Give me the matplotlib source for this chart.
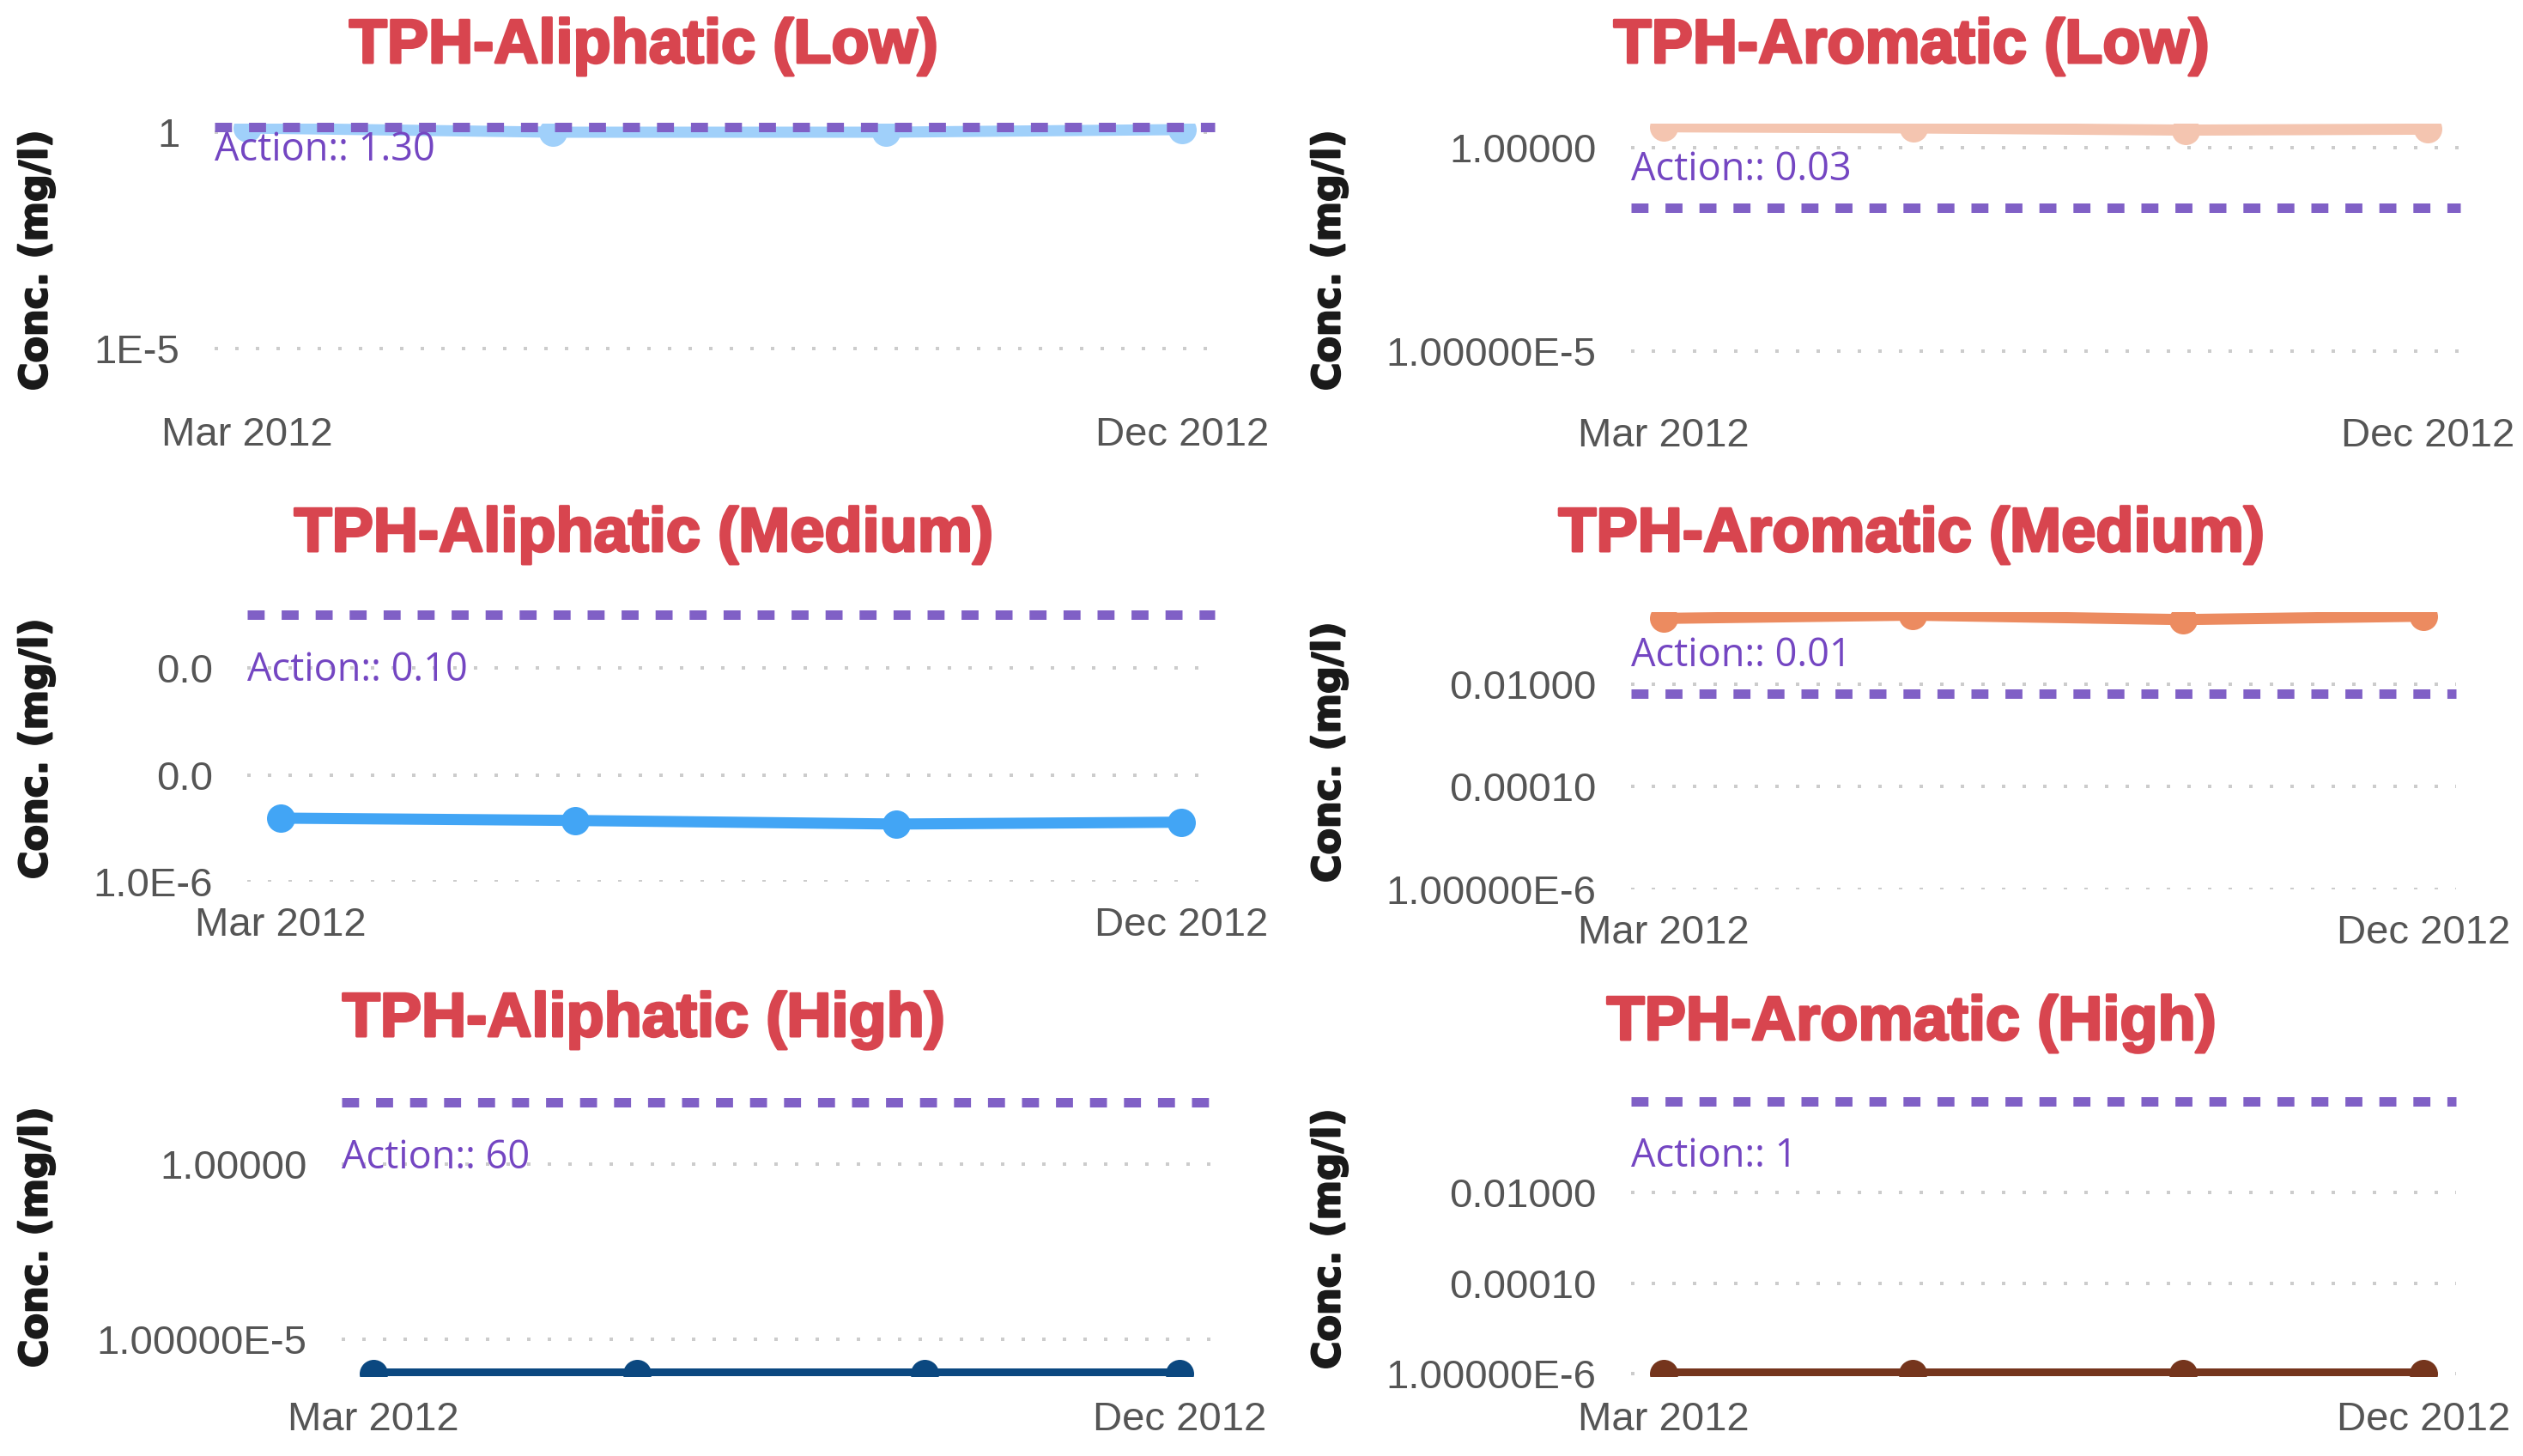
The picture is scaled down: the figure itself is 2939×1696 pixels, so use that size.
import matplotlib
matplotlib.use("Agg")
import matplotlib.pyplot as plt
import matplotlib.dates as mdates
import matplotlib.patheffects as pe
import numpy as np
from datetime import datetime

# ---------------- data ----------------
dates = ["2012-03-01", "2012-05-30", "2012-09-05", "2012-12-01"]
x_tick_labels = ["Mar 2012", "Dec 2012"]

titles = ["TPH-Aliphatic (Low)", "TPH-Aromatic (Low)",
          "TPH-Aliphatic (Medium)", "TPH-Aromatic (Medium)",
          "TPH-Aliphatic (High)", "TPH-Aromatic (High)"]

aliphatic_low = [1.25, 1.0, 1.0, 1.15]
aromatic_low = [3.2, 3.0, 2.65, 2.8]
aliphatic_medium = [1.55e-5, 1.4e-5, 1.2e-5, 1.3e-5]
aromatic_medium = [0.19, 0.22, 0.18, 0.21]
aliphatic_high = [1e-6, 1e-6, 1e-6, 1e-6]
aromatic_high = [1e-6, 1e-6, 1e-6, 1e-6]

action_values = [1.30, 0.033, 0.10, 0.0065, 60, 1]
action_labels = ["1.30", "0.03", "0.10", "0.01", "60", "1"]

y_ticks = [[1e-5, 1], [1e-5, 1], [1e-6, 1e-4, 1e-2],
           [1e-6, 1e-4, 1e-2], [1e-5, 1], [1e-6, 1e-4, 1e-2]]
y_tick_decimals = [0, 5, 1, 5, 5, 5]
y_limits = [(1e-6, 1.58), (1e-6, 3.82), (1e-6, 0.1),
            (1e-6, 0.252), (10 ** -6.07, 60), (10 ** -6.05, 1)]

series = [aliphatic_low, aromatic_low, aliphatic_medium,
          aromatic_medium, aliphatic_high, aromatic_high]

# ---------------- style ----------------
colors = ["#a0d0fa", "#f4c5b0", "#42a5f5", "#ec8b60", "#0b4880", "#75351d"]
# axes rectangles in pixels: (left, top, right, bottom)
rects_px = [(250, 144, 1415, 456), (1900, 144, 2866, 457),
            (288, 716, 1415, 1027), (1900, 713, 2861, 1036),
            (398, 1284, 1411, 1603), (1900, 1283, 2861, 1603)]
x_margins = [0.035, 0.043, 0.037, 0.043, 0.039, 0.043]
title_pos_px = [(750, 73), (2227, 73), (750, 642), (2227, 642),
                (750, 1207), (2227, 1211)]
ylabel_pos_px = [(42, 303), (1548, 303), (42, 872), (1548, 876),
                 (42, 1441), (1548, 1443)]
label_offsets_px = [-38.5, 32, -77, 32, -77, -76]

W, H = 2939, 1696
DPI = 100
PT = 72.0 / DPI

title_color = "#d8454f"
action_line_color = "#8060c6"
action_text_color = "#7446c2"
tick_color = "#555555"
grid_color = "#cccccc"


def fmt_value(v, d):
    if v < 1e-4:
        e = int(np.floor(np.log10(v) + 1e-9))
        m = v / 10 ** e
        return f"{m:.{d}f}E{e}"
    return f"{v:.{d}f}"


fig = plt.figure(figsize=(W / DPI, H / DPI), dpi=DPI)
fig.patch.set_facecolor("white")

x = [datetime.strptime(d, "%Y-%m-%d") for d in dates]
xnum = mdates.date2num(x)

for i in range(6):
    l, t, r, b = rects_px[i]
    ax = fig.add_axes([l / W, 1 - b / H, (r - l) / W, (b - t) / H])
    ax.set_yscale("log")
    ax.set_ylim(*y_limits[i])
    lo, hi = xnum[0], xnum[-1]
    pad = (hi - lo) * x_margins[i]
    ax.set_xlim(lo - pad, hi + pad)

    for s in ax.spines.values():
        s.set_visible(False)

    # grid lines at y ticks
    for yv in y_ticks[i]:
        ax.axhline(yv, color=grid_color, lw=4 * PT, dashes=(1, 5),
                   dash_capstyle="butt", zorder=1)

    # series
    ax.plot(xnum, series[i], color=colors[i], lw=13 * PT,
            marker="o", markersize=33 * PT, markeredgewidth=0,
            solid_joinstyle="round", zorder=3)

    # action line
    ax.axhline(action_values[i], color=action_line_color, lw=11 * PT,
               dashes=(1.8, 1.8), dash_capstyle="butt", zorder=4,
               clip_on=False)
    ax.annotate("Action:: " + action_labels[i],
                xy=(0, action_values[i]),
                xycoords=("axes fraction", "data"),
                xytext=(0, label_offsets_px[i] * PT),
                textcoords="offset points",
                ha="left", va="baseline", color=action_text_color,
                fontsize=32.5, family="Open Sans", annotation_clip=False,
                zorder=5)

    # ticks
    ax.set_yticks(y_ticks[i])
    ax.set_yticklabels([fmt_value(v, y_tick_decimals[i]) for v in y_ticks[i]])
    ax.yaxis.set_minor_locator(matplotlib.ticker.NullLocator())
    ax.set_xticks([xnum[0], xnum[-1]])
    ax.set_xticklabels(x_tick_labels)
    ax.tick_params(axis="both", length=0, labelsize=34,
                   labelcolor=tick_color)
    ax.tick_params(axis="x", pad=21)
    ax.tick_params(axis="y", pad=29)
    for lab in ax.get_xticklabels() + ax.get_yticklabels():
        lab.set_family("Liberation Sans")
    ax.set_facecolor("none")

    tx, ty = title_pos_px[i]
    fig.text(tx / W, 1 - ty / H, titles[i], ha="center", va="baseline",
             color=title_color, fontsize=52, fontweight="bold",
             family="Liberation Sans",
             path_effects=[pe.withStroke(linewidth=2.2, foreground=title_color)])
    lx, ly = ylabel_pos_px[i]
    fig.text(lx / W, 1 - ly / H, "Conc. (mg/l)", ha="center", va="center",
             rotation=90, color="#1a1a1a", fontsize=32, fontweight="bold",
             family="DejaVu Sans",
             path_effects=[pe.withStroke(linewidth=1.5, foreground="#1a1a1a")])

fig.savefig("out.png", dpi=DPI, facecolor="white")
